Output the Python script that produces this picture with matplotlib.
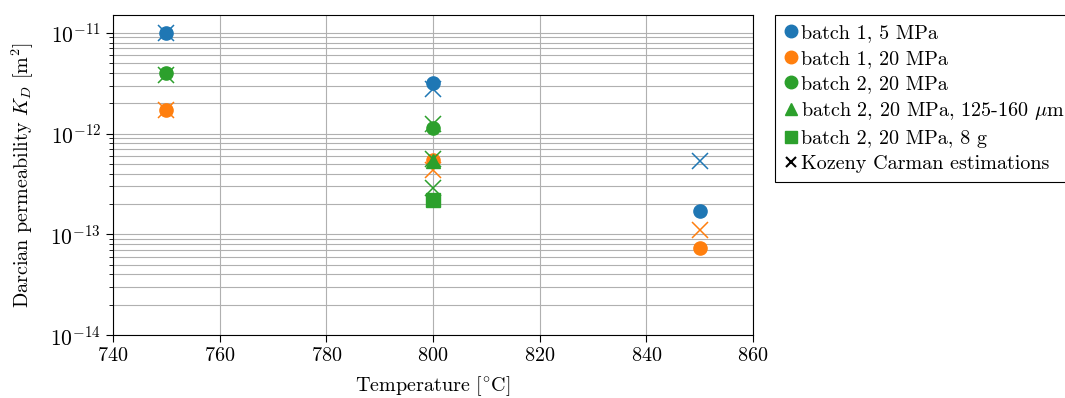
import matplotlib
matplotlib.use("Agg")
import matplotlib.pyplot as plt
from matplotlib.lines import Line2D
from matplotlib.ticker import LogLocator, NullFormatter

plt.rcParams['font.family'] = ['cmr10', 'DejaVu Serif']
plt.rcParams['mathtext.fontset'] = 'cm'
plt.rcParams['axes.formatter.use_mathtext'] = True
plt.rcParams['font.size'] = 14.5

# measured and Kozeny-Carman estimated permeability
labels = ['batch 1, 5 MPa', 'batch 1, 20 MPa', 'batch 2, 20 MPa',
          r'batch 2, 20 MPa, 125-160 $\mu$m', 'batch 2, 20 MPa, 8 g']
temps = [[750, 800, 850], [750, 800, 850], [750, 800], [800], [800]]
k_meas = [[1.0e-11, 3.2e-12, 1.7e-13],
          [1.73e-12, 5.5e-13, 7.3e-14],
          [4.0e-12, 1.15e-12],
          [5.4e-13],
          [2.2e-13]]
k_kc = [[1.0e-11, 2.75e-12, 5.4e-13],
        [1.7e-12, 4.4e-13, 1.1e-13],
        [3.8e-12, 1.25e-12],
        [5.6e-13],
        [2.9e-13]]
colors = ['#1f77b4', '#ff7f0e', '#2ca02c', '#2ca02c', '#2ca02c']
markers = ['o', 'o', 'o', '^', 's']

fig = plt.figure(figsize=(10.65, 3.98), dpi=100)
ax = fig.add_axes([0.106, 0.158, 0.601, 0.804])

for t, km, kk, c, m in zip(temps, k_meas, k_kc, colors, markers):
    ax.plot(t, kk, 'x', color=c, ms=11, mew=1.1, ls='none')
    ax.plot(t, km, m, color=c, ms=9.5, ls='none')

ax.set_yscale('log')
ax.set_xlim(740, 860)
ax.set_ylim(1e-14, 1.5e-11)
ax.set_xticks(range(740, 861, 20))
ax.yaxis.set_major_locator(LogLocator(base=10, numticks=10))
ax.yaxis.set_minor_locator(LogLocator(base=10, subs=range(2, 10), numticks=20))
ax.yaxis.set_minor_formatter(NullFormatter())
ax.tick_params(which='major', length=5)
ax.tick_params(which='minor', length=3)
ax.tick_params(axis='y', labelsize=15.5)
ax.grid(True, which='major', color='#b0b0b0', lw=0.8)
ax.grid(True, which='minor', axis='y', color='#b0b0b0', lw=0.8)
ax.set_axisbelow(True)
ax.set_xlabel(r'Temperature $[^{\circ}\mathrm{C}]$', labelpad=7)
ax.set_ylabel('Darcian permeability $K_D$ [m$^2$]', labelpad=10)

handles = [Line2D([], [], marker=m, color=c, ls='none', ms=9)
           for c, m in zip(colors, markers)]
handles.append(Line2D([], [], marker='x', color='black', ls='none', ms=7, mew=1.5))
leg = ax.legend(handles, labels + ['Kozeny Carman estimations'],
                loc='upper left', bbox_to_anchor=(1.034, 1.0), borderaxespad=0,
                handlelength=0.7, handletextpad=0.15, fancybox=False,
                edgecolor='black', framealpha=1, borderpad=0.45, labelspacing=0.36)
leg.get_frame().set_linewidth(0.8)

fig.savefig('out.png', dpi=100)
